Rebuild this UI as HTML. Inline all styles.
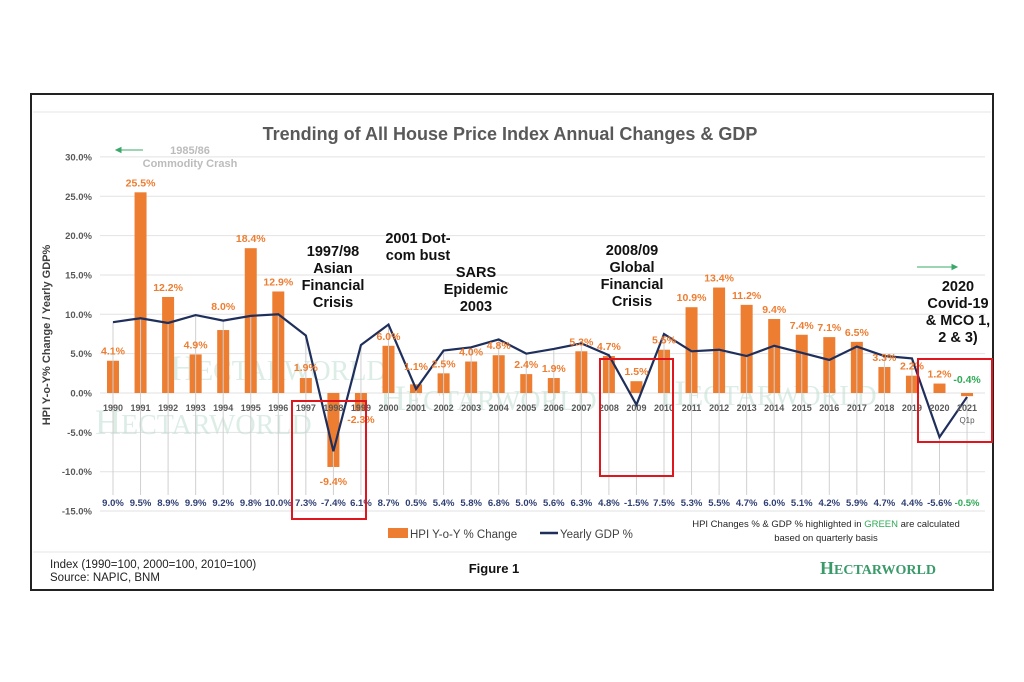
<!DOCTYPE html>
<html><head><meta charset="utf-8"><style>
html,body{margin:0;padding:0;background:#fff;}
svg{display:block;font-family:"Liberation Sans",sans-serif;}
</style></head><body>
<svg width="1024" height="682" viewBox="0 0 1024 682" xmlns="http://www.w3.org/2000/svg">
<rect x="31" y="94" width="962" height="496" fill="#fff" stroke="#222" stroke-width="2"/>
<line x1="33" y1="112" x2="991" y2="112" stroke="#e4e4e4"/>
<line x1="33" y1="552" x2="991" y2="552" stroke="#e4e4e4"/>
<text x="510" y="140" text-anchor="middle" font-size="18" font-weight="bold" fill="#595959">Trending of All House Price Index Annual Changes &amp; GDP</text>
<g id="grid" stroke="#e2e2e2" stroke-width="1"></g>
<g id="yl" font-size="9.5" font-weight="bold" fill="#595959" text-anchor="end"></g>
<text transform="translate(50,335) rotate(-90)" text-anchor="middle" font-size="11" font-weight="bold" fill="#404040">HPI Y-o-Y% Change / Yearly GDP%</text>
<g font-family="Liberation Serif,serif" font-size="36" fill="#b9dccd" opacity="0.5">
<text x="170" y="380">H<tspan font-size="28">ECTARWORLD</tspan></text>
<text x="95" y="434">H<tspan font-size="28">ECTARWORLD</tspan></text>
<text x="380" y="410">H<tspan font-size="28">ECTARWORLD</tspan></text>
<text x="660" y="405">H<tspan font-size="28">ECTARWORLD</tspan></text>
</g>
<g id="bars"></g>
<g id="drops" stroke="#d0d0d0"></g>
<polyline id="gdp" fill="none" stroke="#1f2f5c" stroke-width="2.2"/>
<g id="xl" font-size="9" font-weight="bold" fill="#595959" text-anchor="middle"></g>
<g id="hl" font-size="10.5" font-weight="bold" fill="#ed7d31" text-anchor="middle"></g>
<g id="gl" font-size="9.5" font-weight="bold" fill="#2f3f73" text-anchor="middle"></g>
<text x="967" y="423" font-size="8" fill="#595959" text-anchor="middle">Q1p</text>
<g fill="none" stroke="#e0161e" stroke-width="2">
<rect x="292" y="401" width="74" height="118"/>
<rect x="600" y="359" width="73" height="117"/>
<rect x="918" y="359" width="74" height="83"/>
</g>
<g font-size="14.5" font-weight="bold" fill="#111" text-anchor="middle">
<text x="333" y="256">1997/98</text><text x="333" y="273">Asian</text><text x="333" y="290">Financial</text><text x="333" y="307">Crisis</text>
<text x="418" y="243">2001 Dot-</text><text x="418" y="260">com bust</text>
<text x="476" y="277">SARS</text><text x="476" y="294">Epidemic</text><text x="476" y="311">2003</text>
<text x="632" y="255">2008/09</text><text x="632" y="272">Global</text><text x="632" y="289">Financial</text><text x="632" y="306">Crisis</text>
<text x="958" y="291">2020</text><text x="958" y="308">Covid-19</text><text x="958" y="325">&amp; MCO 1,</text><text x="958" y="342">2 &amp; 3)</text>
</g>
<g font-size="11" font-weight="bold" fill="#bcbcbc" text-anchor="middle">
<text x="190" y="154">1985/86</text><text x="190" y="167">Commodity Crash</text>
</g>
<g stroke="#3aa86a" stroke-width="1" fill="#3aa86a">
<line x1="118" y1="150" x2="143" y2="150"/><path d="M116,150 l5,-2.5 v5z"/>
<line x1="917" y1="267" x2="954" y2="267"/><path d="M957,267 l-5,-2.5 v5z"/>
</g>
<rect x="388" y="528" width="20" height="10" fill="#ed7d31"/>
<text x="410" y="538" font-size="11.5" fill="#404040">HPI Y-o-Y % Change</text>
<line x1="540" y1="533" x2="558" y2="533" stroke="#1f2f5c" stroke-width="2.5"/>
<text x="560" y="538" font-size="11.5" fill="#404040">Yearly GDP %</text>
<text x="826" y="527" font-size="9.5" fill="#262626" text-anchor="middle">HPI Changes % &amp; GDP % highlighted in <tspan fill="#2eaa55">GREEN</tspan> are calculated</text>
<text x="826" y="541" font-size="9.5" fill="#262626" text-anchor="middle">based on quarterly basis</text>
<text x="50" y="568" font-size="11.5" fill="#222">Index (1990=100, 2000=100, 2010=100)</text>
<text x="50" y="581" font-size="11.5" fill="#222">Source: NAPIC, BNM</text>
<text x="494" y="573" font-size="13" font-weight="bold" fill="#111" text-anchor="middle">Figure 1</text>
<text x="820" y="574" font-family="Liberation Serif,serif" font-size="18" font-weight="bold" fill="#3a9a6a">H<tspan font-size="14">ECTARWORLD</tspan></text>
<script>
var ns="http://www.w3.org/2000/svg";
function el(p,t,a,txt){var e=document.createElementNS(ns,t);for(var k in a)e.setAttribute(k,a[k]);if(txt!=null)e.textContent=txt;document.getElementById(p).appendChild(e);return e;}
function Y(v){return 393-v*7.87;}
function X(i){return 113+i*27.55;}
for(var v=30;v>=-15;v-=5){el("grid","line",{x1:100,x2:985,y1:Y(v),y2:Y(v)});el("yl","text",{x:92,y:Y(v)+3.5},v.toFixed(1)+"%");}
var g=[9.0,9.5,8.9,9.9,9.2,9.8,10.0,7.3,-7.4,6.1,8.7,0.5,5.4,5.8,6.8,5.0,5.6,6.3,4.8,-1.5,7.5,5.3,5.5,4.7,6.0,5.1,4.2,5.9,4.7,4.4,-5.6,-0.5];
var h=[4.1,25.5,12.2,4.9,8.0,18.4,12.9,1.9,-9.4,-2.3,6.0,1.1,2.5,4.0,4.8,2.4,1.9,5.3,4.7,1.5,5.5,10.9,13.4,11.2,9.4,7.4,7.1,6.5,3.3,2.2,1.2,-0.4];
var pts=[];
for(var i=0;i<32;i++){var x=X(i);
el("drops","line",{x1:x,x2:x,y1:Y(g[i]),y2:495});
var y0=Y(0),y1=Y(h[i]);el("bars","rect",{x:x-6,y:Math.min(y0,y1),width:12,height:Math.max(Math.abs(y1-y0),2),fill:"#ed7d31"});
pts.push(x+","+Y(g[i]));
el("xl","text",{x:x,y:411},1990+i);
var ly=h[i]>=0?y1-6:y1+14; if(i==8)ly=y1+18; if(i==9)ly=Y(0)+30; if(i==31)ly=Y(0)-10; if(i==7)ly=Y(0)-22; if(i==11)ly=Y(0)-23; if(i==4)ly=y1-20;
var t=el("hl","text",{x:x,y:ly},h[i].toFixed(1)+"%"); if(i==31)t.setAttribute("fill","#2eaa55");
var gt=el("gl","text",{x:x,y:506},g[i].toFixed(1)+"%"); if(i==31)gt.setAttribute("fill","#2eaa55");
}
document.getElementById("gdp").setAttribute("points",pts.join(" "));
</script>
</svg>
</body></html>
